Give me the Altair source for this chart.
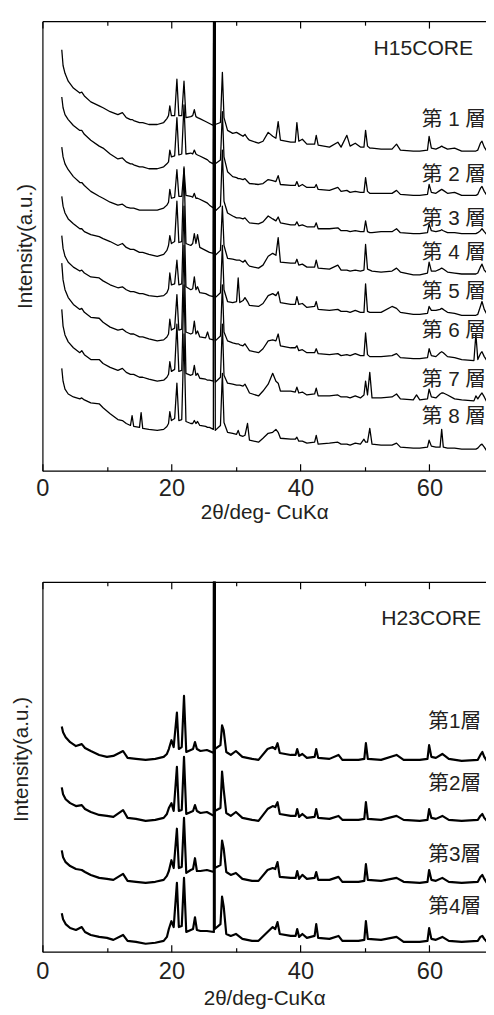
import altair as alt
import pandas as pd

# ---------------- H15CORE (upper panel) ----------------
# 2-theta grid shared by the eight traces (deg, CuKa)
theta_h15 = [
    3.0, 3.2, 3.5, 4.0, 4.8, 5.8, 6.1, 6.5, 7.5, 8.8, 9.4, 10.5, 11.7, 12.4, 13.0,
    13.65, 13.9, 14.15, 15.05, 15.3, 15.55, 16.5, 17.8, 18.8, 19.3,
    19.55, 19.75, 20.0, 20.5, 20.85, 21.15, 21.6, 21.95, 22.25, 23.0, 23.3, 23.55,
    23.8, 24.05, 24.4, 25.3, 25.6, 25.9, 26.5, 26.65, 26.8, 27.6, 27.9, 28.15, 28.7,
    29.5, 30.1, 30.35, 30.6, 31.1, 31.4, 31.8, 32.1, 33.5, 34.2, 35.0, 35.7, 36.2,
    36.55, 36.9, 38.5, 39.2, 39.45, 39.75, 40.3, 41.0, 42.2, 42.45, 42.75, 44.5,
    45.8, 46.3, 47.2, 47.7, 48.5, 49.3, 49.85, 50.1, 50.4, 50.75, 51.1,
    52.5, 54.2, 54.9, 55.5, 57.5, 58.0, 58.5, 59.7, 59.95, 60.3, 61.0, 61.65, 61.9,
    62.15, 62.8, 63.9, 65.0, 66.9, 67.2, 67.5, 67.9, 68.15, 68.5, 68.9,
]
Q15 = 900  # quartz 26.6 deg peak, runs off the top of the frame

h15_layer1 = [428, 412, 404, 396, 389, 384, 385, 381, 375, 371, 369, 365, 362, 364, 359, 357, 357, 356, 354, 354, 354, 352, 352, 354, 358,
              361, 371, 361, 361, 398, 361, 361, 396, 359, 360, 361, 367, 360, 359, 358, 355, 354, 353, 351, Q15, 352, 354, 405, 359, 346,
              343, 344, 343, 342, 340, 342, 338, 336, 333, 335, 344, 340, 338, 355, 336, 334, 334, 354, 335, 337, 332, 332, 341, 331, 329, 334, 329, 341, 330, 333, 329, 329, 346, 330, 328, 328,
              327, 327, 332, 326, 325, 325, 325, 326, 340, 328, 327, 329, 330, 329, 327, 328, 325, 325, 325, 326, 333, 335, 329, 325]
h15_layer2 = [380, 369, 362, 357, 351, 346, 346, 342, 336, 330, 328, 322, 317, 318, 314, 312, 312, 311, 309, 309, 309, 307, 307, 309, 312,
              314, 326, 319, 320, 359, 321, 322, 372, 322, 323, 322, 326, 322, 321, 320, 317, 316, 314, 312, Q15, 312, 316, 365, 319, 304,
              299, 298, 297, 297, 296, 297, 294, 292, 291, 292, 296, 295, 294, 300, 291, 290, 290, 294, 289, 291, 288, 288, 291, 286, 285, 288, 284, 285, 283, 284, 283, 283, 298, 284, 282, 282,
              282, 282, 285, 281, 280, 280, 280, 281, 291, 283, 282, 285, 286, 285, 282, 283, 280, 280, 280, 281, 287, 289, 284, 280]
h15_layer3 = [329, 319, 312, 306, 299, 293, 293, 290, 284, 279, 277, 273, 270, 271, 268, 267, 267, 267, 265, 265, 265, 265, 265, 267, 270,
              273, 286, 277, 278, 306, 279, 279, 307, 280, 279, 278, 282, 277, 277, 276, 273, 272, 270, 267, Q15, 264, 269, 326, 274, 262,
              259, 257, 257, 257, 256, 257, 254, 252, 251, 253, 259, 256, 254, 258, 252, 250, 250, 253, 249, 250, 248, 248, 252, 246, 246, 247, 244, 244, 243, 244, 243, 243, 254, 243, 242, 242,
              243, 243, 246, 242, 241, 241, 241, 242, 251, 244, 243, 244, 245, 244, 242, 242, 241, 241, 241, 242, 244, 246, 243, 240]
h15_layer4 = [279, 269, 262, 256, 251, 246, 246, 243, 240, 238, 236, 233, 229, 231, 227, 225, 225, 225, 222, 222, 222, 220, 218, 220, 224,
              229, 239, 231, 233, 274, 232, 233, 309, 231, 229, 231, 241, 231, 240, 227, 224, 223, 222, 221, Q15, 219, 224, 269, 229, 216,
              215, 214, 214, 214, 212, 214, 210, 208, 206, 209, 218, 221, 219, 237, 212, 211, 211, 215, 209, 210, 207, 207, 214, 206, 205, 209, 204, 204, 203, 204, 203, 204, 230, 205, 204, 203,
              202, 203, 206, 202, 199, 199, 199, 201, 212, 203, 203, 205, 206, 205, 202, 201, 200, 200, 200, 201, 207, 210, 204, 201]
h15_layer5 = [239, 226, 218, 212, 207, 203, 204, 201, 197, 196, 193, 189, 186, 187, 184, 182, 182, 182, 180, 180, 180, 178, 177, 178, 181,
              185, 201, 189, 190, 214, 189, 190, 269, 187, 184, 185, 197, 184, 187, 181, 180, 179, 178, 177, Q15, 176, 181, 229, 184, 172,
              171, 172, 196, 171, 173, 176, 172, 168, 167, 170, 178, 180, 178, 182, 171, 169, 169, 177, 169, 170, 166, 167, 172, 164, 163, 164, 162, 162, 161, 163, 161, 161, 190, 162, 161, 161,
              161, 167, 165, 161, 159, 159, 159, 160, 167, 163, 163, 164, 165, 164, 161, 160, 158, 158, 158, 159, 167, 172, 164, 159]
h15_layer6 = [211, 194, 184, 176, 169, 164, 165, 161, 156, 155, 151, 146, 143, 144, 141, 139, 139, 139, 136, 136, 136, 134, 132, 133, 136,
              139, 154, 143, 145, 179, 143, 144, 229, 141, 139, 140, 152, 139, 142, 136, 135, 141, 134, 133, Q15, 132, 137, 189, 141, 132,
              130, 129, 129, 128, 127, 129, 125, 122, 120, 124, 132, 133, 132, 139, 127, 125, 125, 127, 122, 123, 120, 120, 124, 119, 118, 119, 117, 118, 117, 119, 117, 117, 140, 118, 116, 116,
              116, 117, 119, 115, 114, 114, 114, 115, 124, 117, 116, 120, 121, 120, 116, 115, 113, 112, 139, 113, 119, 121, 116, 112]
h15_layer7 = [164, 147, 138, 131, 125, 120, 122, 118, 113, 113, 109, 105, 102, 104, 100, 98, 98, 98, 95, 95, 95, 93, 91, 92, 95,
              98, 111, 101, 103, 149, 101, 102, 189, 99, 97, 98, 107, 97, 99, 94, 93, 92, 92, 91, Q15, 90, 95, 149, 97, 89,
              88, 87, 87, 87, 86, 88, 83, 79, 76, 81, 88, 99, 91, 89, 81, 81, 80, 85, 79, 80, 77, 78, 84, 76, 76, 77, 75, 75, 74, 76, 74, 77, 91, 77, 100, 74,
              74, 75, 78, 73, 72, 77, 72, 73, 83, 75, 74, 78, 79, 79, 77, 73, 72, 71, 76, 73, 77, 79, 75, 70]
h15_layer8 = [104, 91, 83, 78, 75, 73, 74, 72, 69, 68, 64, 58, 52, 51, 48, 46, 56, 45, 44, 59, 43, 42, 41, 42, 45,
              48, 60, 51, 53, 89, 51, 52, 139, 50, 48, 48, 51, 48, 50, 46, 45, 44, 44, 42, Q15, 41, 46, 99, 49, 39,
              38, 37, 41, 36, 35, 36, 48, 31, 29, 33, 38, 39, 42, 39, 33, 32, 32, 34, 30, 30, 28, 29, 36, 27, 28, 29, 27, 27, 26, 28, 27, 32, 29, 29, 43, 27,
              26, 26, 28, 24, 23, 23, 23, 24, 31, 25, 24, 24, 42, 24, 23, 23, 22, 22, 22, 23, 26, 27, 24, 20]

h15_names = ["第 1 層", "第 2 層", "第 3 層", "第 4 層", "第 5 層", "第 6 層", "第 7 層", "第 8 層"]
h15_label_level = [356, 301, 256, 221, 182, 142, 92, 54]
h15_series = [h15_layer1, h15_layer2, h15_layer3, h15_layer4,
              h15_layer5, h15_layer6, h15_layer7, h15_layer8]

# ---------------- H23CORE (lower panel) ----------------
theta_h23 = [
    3.0, 3.2, 3.6, 4.3, 5.2, 6.1, 6.6, 7.5, 8.8, 10.0,
    11.0, 12.5, 13.2, 14.5, 16.0, 17.5, 18.8, 19.3, 19.6, 20.0,
    20.35, 20.85, 21.15, 21.6, 21.95, 22.3, 23.0, 23.35, 23.65, 23.95,
    24.5, 25.5, 26.58, 26.65, 26.72, 27.6, 27.85, 28.1, 28.5, 29.2,
    30.0, 31.0, 32.5, 33.5, 34.9, 35.7, 36.1, 36.45, 36.8, 38.5,
    39.25, 39.5, 39.8, 40.3, 41.0, 42.2, 42.45, 42.75, 44.5, 45.9,
    46.5, 49.0, 49.9, 50.15, 50.45, 52.5, 54.9, 56.0, 58.5, 59.7,
    59.95, 60.3, 61.0, 62.0, 63.0, 65.0, 67.5, 67.9, 68.2, 68.5, 68.9,
]
Q23 = 1000

h23_layer1 = [229, 223, 218, 213, 209, 211, 207, 204, 200, 198,
              199, 204, 197, 196, 195, 196, 198, 201, 206, 215,
              208, 243, 206, 208, 260, 203, 205, 206, 213, 206,
              204, 205, 202, Q23, 206, 210, 230, 225, 203, 200,
              204, 198, 196, 195, 206, 208, 206, 212, 202, 200,
              200, 206, 199, 201, 197, 198, 206, 197, 196, 200,
              195, 195, 196, 212, 196, 195, 200, 195, 195, 196,
              210, 198, 197, 201, 196, 194, 195, 200, 203, 198, 194]
h23_layer2 = [167, 160, 155, 151, 148, 149, 145, 142, 139, 138,
              137, 144, 136, 135, 133, 134, 136, 140, 146, 151,
              143, 188, 143, 144, 198, 140, 142, 143, 149, 143,
              141, 142, 138, Q23, 143, 146, 183, 165, 141, 138,
              142, 136, 134, 133, 145, 148, 147, 152, 140, 138,
              138, 145, 137, 140, 136, 137, 145, 136, 135, 138,
              134, 134, 135, 152, 135, 134, 138, 134, 133, 134,
              145, 136, 135, 138, 134, 133, 134, 138, 140, 136, 133]
h23_layer3 = [103, 96, 91, 87, 84, 83, 81, 78, 75, 74,
              73, 79, 72, 71, 70, 71, 73, 77, 82, 93,
              85, 125, 85, 86, 136, 80, 83, 84, 95, 82,
              82, 83, 81, Q23, 85, 88, 113, 105, 81, 78,
              80, 74, 72, 72, 83, 85, 84, 91, 76, 75,
              75, 82, 74, 78, 74, 75, 81, 73, 73, 76,
              71, 71, 72, 89, 73, 72, 75, 71, 70, 71,
              83, 73, 72, 75, 71, 70, 71, 76, 78, 74, 70]
h23_layer4 = [39, 33, 28, 24, 22, 25, 20, 17, 15, 14,
              12, 17, 11, 10, 8, 9, 11, 15, 23, 31,
              25, 70, 25, 26, 75, 20, 22, 23, 35, 22,
              21, 21, 20, Q23, 23, 28, 56, 46, 18, 16,
              18, 13, 11, 11, 20, 25, 23, 30, 18, 16,
              16, 23, 15, 18, 14, 16, 28, 14, 13, 16,
              11, 11, 12, 31, 13, 12, 15, 10, 10, 11,
              24, 13, 12, 15, 11, 10, 11, 15, 16, 13, 10]

h23_names = ["第1層", "第2層", "第3層", "第4層"]
h23_label_level = [233, 170, 98, 45]
h23_series = [h23_layer1, h23_layer2, h23_layer3, h23_layer4]

x_ticks = [0, 10, 20, 30, 40, 50, 60]
x_max = 68.77

LATIN = "Liberation Sans, Arial, Helvetica, sans-serif"
CJK = "Liberation Sans, Noto Sans CJK JP, sans-serif"
INK = "#231f20"
W = 451


def long_df(theta, names, series):
    rows = []
    for name, ys in zip(names, series):
        if len(ys) != len(theta):
            raise ValueError(f"{name}: {len(ys)} values for {len(theta)} angles")
        for t, v in zip(theta, ys):
            rows.append({"theta": t, "I": v, "trace": name})
    return pd.DataFrame(rows)


def panel(df, names, levels, H, ymax, xtitle, stroke, corner, corner_level,
          corner_dx, label_dx, lab_pad, title_pad, ytitle_pad, ytitle_y):
    xs = alt.Scale(domain=[0, x_max], nice=False, zero=False)
    ys = alt.Scale(domain=[0, ymax], nice=False, zero=False)
    tick_size = {"condition": {"test": "datum.value % 20 === 0", "value": 7}, "value": 4}
    base = alt.Chart(df)

    yaxis_kw = dict(orient="left", ticks=False, labels=False, domain=True, grid=False,
                    title="Intensity(a.u.)", titleFontSize=21, titlePadding=ytitle_pad,
                    titleFont=LATIN, titleFontWeight="normal", titleColor=INK,
                    domainColor="black", domainWidth=1.2)
    if ytitle_y is not None:
        yaxis_kw["titleY"] = ytitle_y

    lines = base.mark_line(clip=True, color="black", strokeWidth=stroke,
                           strokeJoin="round").encode(
        x=alt.X("theta:Q", scale=xs, axis=alt.Axis(
            orient="bottom", values=x_ticks, ticks=False, domain=True, grid=False,
            domainColor="black", domainWidth=1.2,
            labelExpr="datum.value % 20 === 0 ? datum.label : ''",
            labelFontSize=24, labelFont=LATIN, labelColor=INK, labelPadding=lab_pad,
            labelFlush=False,
            title=xtitle, titleFontSize=21, titleFont=LATIN, titleFontWeight="normal",
            titleColor=INK, titlePadding=title_pad)),
        y=alt.Y("I:Q", scale=ys, axis=alt.Axis(**yaxis_kw)),
        detail="trace:N",
    )
    # inward ticks along the bottom edge
    ticks_bottom = base.mark_line(clip=True, strokeOpacity=0).encode(
        x=alt.X("theta:Q", scale=xs, axis=alt.Axis(
            orient="top", offset=-H, values=x_ticks, ticks=True, tickSize=tick_size,
            tickColor="black", tickWidth=1.2, labels=False, domain=False, grid=False,
            title=None)),
        y=alt.Y("I:Q", scale=ys, axis=None),
        detail="trace:N",
    )
    # top frame line with inward ticks
    ticks_top = base.mark_line(clip=True, strokeOpacity=0).encode(
        x=alt.X("theta:Q", scale=xs, axis=alt.Axis(
            orient="bottom", offset=-H, values=x_ticks, ticks=True, tickSize=tick_size,
            tickColor="black", tickWidth=1.2, labels=False, domain=True,
            domainColor="black", domainWidth=1.2, grid=False, title=None)),
        y=alt.Y("I:Q", scale=ys, axis=None),
        detail="trace:N",
    )
    lab_df = pd.DataFrame({"lab": names, "level": levels})
    layer_labels = alt.Chart(lab_df).mark_text(
        align="right", baseline="middle", fontSize=21, font=CJK, color=INK
    ).encode(
        x=alt.value(W - label_dx),
        y=alt.Y("level:Q", scale=ys, axis=None),
        text="lab:N",
    )
    corner_df = pd.DataFrame({"lab": [corner], "level": [corner_level]})
    corner_label = alt.Chart(corner_df).mark_text(
        align="right", baseline="middle", fontSize=21.5, font=LATIN, color=INK
    ).encode(
        x=alt.value(W - corner_dx),
        y=alt.Y("level:Q", scale=ys, axis=None),
        text="lab:N",
    )
    return alt.layer(lines, ticks_bottom, ticks_top, layer_labels, corner_label).resolve_axis(
        x="independent", y="independent"
    ).properties(width=W, height=H)


df15 = long_df(theta_h15, h15_names, h15_series)
df23 = long_df(theta_h23, h23_names, h23_series)

top = panel(df15, h15_names, h15_label_level, 457, 457, "2θ/deg- CuKα", 1.3,
            "H15CORE", 429, 13, 0, 6, 2, 7, None)
bottom = panel(df23, h23_names, h23_label_level, 376, 376, "2θ/deg-CuKα", 2.2,
               "H23CORE", 338, 5, 5, 8, 5, 11, 180)

chart = alt.vconcat(top, bottom, spacing=113, bounds="flush").properties(
    padding={"left": 3, "top": 4, "right": 0, "bottom": 0},
    background="white",
).configure_view(stroke=None)

chart.save("out.html", embed_options={"renderer": "svg", "actions": False})
